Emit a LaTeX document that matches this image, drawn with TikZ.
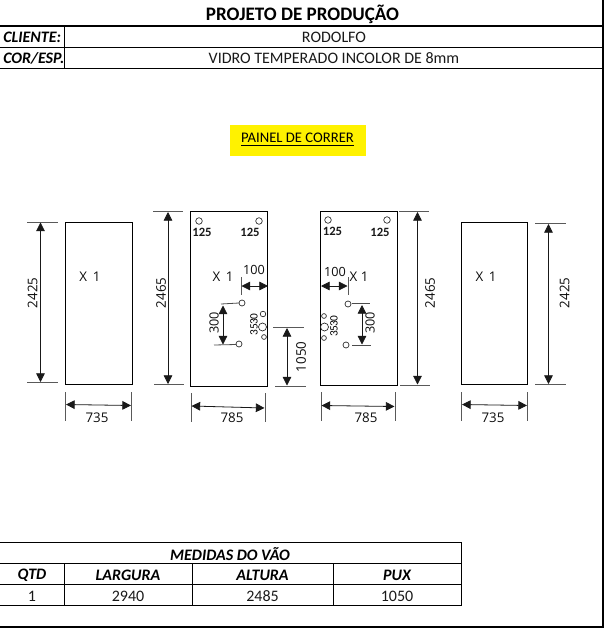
\documentclass[tikz,border=0pt]{standalone}
\usepackage{fontspec}
\setmainfont{Carlito}
\newfontfamily\dimfont{Open Sans}
\usetikzlibrary{arrows.meta}
\tikzset{
  px/.style={x=0.75pt,y=-0.75pt},
  rule/.style={line width=0.75pt,black},
  heavy/.style={line width=1.6pt,black},
  panel/.style={line width=0.65pt,black},
  ext/.style={line width=0.6pt,black!65},
  dimline/.style={line width=0.6pt,black!90,{Triangle[length=6.5pt,width=6.5pt]}-{Triangle[length=6.5pt,width=6.5pt]}},
  hole/.style={line width=0.5pt,black!85},
  lead/.style={line width=0.6pt,black!70},
  cell/.style={font=\fontsize{12}{14}\selectfont,text=black!90,inner sep=0pt},
  paineltext/.style={font=\fontsize{11}{13}\selectfont,text=black,inner sep=0pt},
  head/.style={font=\fontsize{12}{14}\selectfont\bfseries\itshape,inner sep=0pt},
  titletext/.style={font=\fontsize{14.3}{16}\selectfont\bfseries,inner sep=0pt},
  dimtext/.style={font=\dimfont\fontsize{10}{12}\selectfont,text=black!95,inner sep=0pt},
  smalltext/.style={font=\fontsize{9.5}{11}\selectfont\bfseries,text=black!90,inner sep=0pt},
  tinytext/.style={font=\fontsize{8.5}{9}\selectfont,text=black,inner sep=0pt,rotate=90},
  midtext/.style={font=\dimfont\fontsize{9.5}{11}\selectfont,text=black!95,inner sep=0pt},
}
\begin{document}
\begin{tikzpicture}[px]
\useasboundingbox (0,0) rectangle (604,628);
% frame and header
\draw[line width=1.6pt] (603,0) -- (603,628);
\draw[heavy] (0,26) -- (604,26);
\draw[rule] (0,47) -- (604,47);
\draw[rule] (0,68) -- (604,68);
\draw[rule] (64.5,26) -- (64.5,68);
\node[titletext] (title) at (302.5,14) {PROJETO DE PRODUÇÃO};
\node[head,anchor=west] (cliente) at (3,37.5) {CLIENTE:};
\node[head,anchor=west] (coresp) at (3,58.5) {COR/ESP.};
\node[cell] (rodolfo) at (334,37.5) {RODOLFO};
\node[cell] (vidro) at (334,58.5) {VIDRO TEMPERADO INCOLOR DE 8mm};
% yellow label
\fill[yellow] (230,125) rectangle (366,156);
\node[paineltext] (painel) at (297.5,139.5) {\underline{PAINEL DE CORRER}};
% panel A
\draw[panel] (65.5,222) rectangle (132,384);
\draw[ext] (27,222) -- (58,222);
\draw[ext] (27,382.5) -- (58,382.5);
\draw[dimline] (40.5,222.5) -- (40.5,382);
\node[dimtext,rotate=90] (a1) at (32.5,293) {2425};
\node[dimtext] (a2) at (90,277) {X\, 1};
\draw[ext] (65.5,392) -- (65.5,421);
\draw[ext] (131.5,392) -- (131.5,421);
\draw[dimline] (66,404.5) -- (131,405.5);
\node[dimtext] (a3) at (97,417.5) {735};
% panel B
\draw[panel] (190.5,211) rectangle (267,386);
\draw[ext] (153,211.5) -- (183,211.5);
\draw[ext] (154,384.5) -- (184,384.5);
\draw[dimline] (168,212) -- (168,384);
\node[dimtext,rotate=90] (b1) at (161,293) {2465};
\draw[hole] (199,221) circle (3.3);
\draw[hole] (259,221) circle (3.3);
\node[smalltext] (b2) at (202,232) {125};
\node[smalltext] (b3) at (250,232.5) {125};
\node[dimtext] (b4) at (223,277) {X\, 1};
\node[midtext] (b5) at (254,270) {100};
\draw[ext] (241,277) -- (241,295);
\draw[dimline] (241.5,286) -- (268,286);
\draw[hole] (242,303) circle (3);
\draw[hole] (239,344) circle (3);
\draw[lead] (221,304) -- (239,303);
\draw[lead] (214,345) -- (236,344.5);
\draw[dimline] (223,305.5) -- (223,344.5);
\node[midtext,rotate=90] (b6) at (214,323) {300};
\draw[hole] (263,314) circle (2.8);
\draw[hole] (262.5,327) circle (4);
\draw[hole] (264,337) circle (2.4);
\node[tinytext] (b7) at (254,319) {30};
\node[tinytext] (b8) at (254,329.5) {35};
\draw[ext] (273,327.5) -- (304,327.5);
\draw[ext] (275,386) -- (306,386);
\draw[dimline] (287,328) -- (287,385.5);
\node[dimtext,rotate=90] (b9) at (301,357) {1050};
\draw[ext] (191,393) -- (191,422);
\draw[ext] (265.5,393) -- (265.5,422);
\draw[dimline] (191.5,406) -- (264.5,408);
\node[dimtext] (b10) at (232,418) {785};
% panel C
\draw[panel] (320.5,211) rectangle (397,385);
\draw[ext] (399,211.5) -- (429,211.5);
\draw[ext] (400,385) -- (430,385);
\draw[dimline] (417.5,212) -- (417.5,384.5);
\node[dimtext,rotate=90] (c1) at (430,293) {2465};
\draw[hole] (328,220) circle (3.3);
\draw[hole] (387,220) circle (3.3);
\node[smalltext] (c2) at (332.5,231) {125};
\node[smalltext] (c3) at (380,232) {125};
\node[midtext] (c4) at (335,272) {100};
\node[dimtext] (c5) at (359,277) {X 1};
\draw[ext] (348,277) -- (348,295);
\draw[dimline] (321,286) -- (347.5,286);
\draw[hole] (348,304) circle (3);
\draw[hole] (346,345) circle (3);
\draw[lead] (352,303) -- (369.5,303);
\draw[lead] (352,345) -- (371,345);
\draw[dimline] (362,305) -- (362,344.5);
\node[midtext,rotate=90] (c6) at (370,323) {300};
\draw[hole] (324,316) circle (2.4);
\draw[hole] (324.5,327) circle (4);
\draw[hole] (324,338) circle (2.4);
\node[tinytext] (c7) at (334,321) {30};
\node[tinytext] (c8) at (334,331) {35};
\draw[ext] (321,392) -- (321,421);
\draw[ext] (395.5,392) -- (395.5,421);
\draw[dimline] (321.5,405.5) -- (394.5,406.5);
\node[dimtext] (c9) at (366,418) {785};
% panel D
\draw[panel] (461.5,222) rectangle (527.5,384);
\draw[ext] (535,223.5) -- (566,223.5);
\draw[ext] (535,384.5) -- (566,384.5);
\draw[dimline] (548.5,224) -- (548.5,384);
\node[dimtext,rotate=90] (d1) at (564.5,293) {2425};
\node[dimtext] (d2) at (486,277) {X\, 1};
\draw[ext] (461.5,392) -- (461.5,421);
\draw[ext] (527.5,392) -- (527.5,421);
\draw[dimline] (462,404.5) -- (527,405.5);
\node[dimtext] (d3) at (493,417.5) {735};
% table
\draw[rule] (0,542.5) -- (461.5,542.5);
\draw[rule] (0,563.5) -- (461.5,563.5);
\draw[rule] (0,584.5) -- (461.5,584.5);
\draw[rule] (0,605.5) -- (461.5,605.5);
\draw[rule] (461.5,542.5) -- (461.5,605.5);
\draw[rule] (64.5,563.5) -- (64.5,605.5);
\draw[rule] (192,563.5) -- (192,605.5);
\draw[rule] (333,563.5) -- (333,605.5);
\node[head] (t0) at (230,554) {MEDIDAS DO VÃO};
\node[head] (t1) at (32,575) {QTD};
\node[head] (t2) at (128,575) {LARGURA};
\node[head] (t3) at (262.5,575) {ALTURA};
\node[head] (t4) at (397,575) {PUX};
\node[cell] (t5) at (32,596) {1};
\node[cell] (t6) at (128,596) {2940};
\node[cell] (t7) at (262.5,596) {2485};
\node[cell] (t8) at (397,596) {1050};
\draw[line width=2.2pt] (0,627) -- (604,627);
\end{tikzpicture}
\end{document}
